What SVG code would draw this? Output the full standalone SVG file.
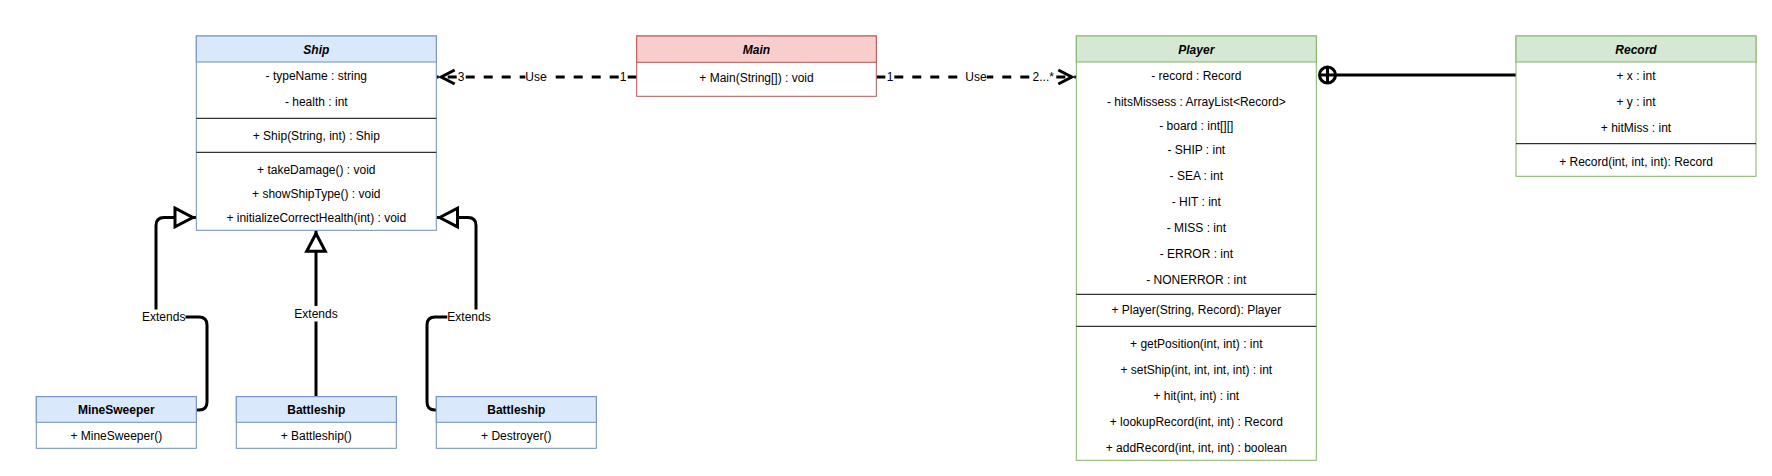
<svg xmlns="http://www.w3.org/2000/svg" width="1772" height="476" viewBox="0 0 1772 476">
<style>
text{font-family:"Liberation Sans",Arial,Helvetica,sans-serif;font-size:12px;fill:#000;text-anchor:middle}
.hdr{font-weight:bold;font-style:italic}
.hb{font-weight:bold}
.blue{fill:#dae8fc;stroke:#6c8ebf;stroke-width:1}
.red{fill:#f8cecc;stroke:#b85450;stroke-width:1}
.green{fill:#d5e8d4;stroke:#82b366;stroke-width:1}
.bodyb{fill:#fff;stroke:#6c8ebf;stroke-width:1}
.bodyr{fill:#fff;stroke:#b85450;stroke-width:1}
.bodyg{fill:#fff;stroke:#82b366;stroke-width:1}
.div{stroke:#000;stroke-width:1}
.edge{fill:none;stroke:#000;stroke-width:3}
.dash{stroke-dasharray:9 9}
.lbg{fill:#fff;stroke:none}
</style>
<defs>
<marker id="tri" markerUnits="userSpaceOnUse" viewBox="-28 -15 32 30" refX="0" refY="0" markerWidth="32" markerHeight="30" orient="auto" overflow="visible">
<path d="M-21,-9.3 L-3.2,0 L-21,9.3 Z" fill="#fff" stroke="#000" stroke-width="3"/>
</marker>
<marker id="open" markerUnits="userSpaceOnUse" viewBox="-24 -12 28 24" refX="0" refY="0" markerWidth="28" markerHeight="24" orient="auto" overflow="visible">
<path d="M-18,-7 L-4.5,0 L-18,7" fill="none" stroke="#000" stroke-width="3"/>
</marker>
</defs>

<g id="connectors">
<!-- MineSweeper extends Ship -->
<path class="edge" marker-end="url(#tri)" d="M196,410 L199,410 Q207,410 207,402 L207,325 Q207,317 199,317 L164,317 Q156,317 156,309 L156,225.5 Q156,217.5 164,217.5 L196,217.5"/>
<rect class="lbg" x="142" y="309.5" width="43.5" height="15"/>
<text x="163.7" y="321">Extends</text>
<!-- Battleship extends Ship -->
<path class="edge" marker-end="url(#tri)" d="M316,396 L316,230.3"/>
<rect class="lbg" x="294.3" y="306" width="43.5" height="15.5"/>
<text x="316" y="318">Extends</text>
<!-- Destroyer extends Ship -->
<path class="edge" marker-end="url(#tri)" d="M436,410 L435,410 Q427,410 427,402 L427,325 Q427,317 435,317 L468,317 Q476,317 476,309 L476,225.5 Q476,217.5 468,217.5 L436.5,217.5"/>
<rect class="lbg" x="447.3" y="309.5" width="43.5" height="15"/>
<text x="469" y="321">Extends</text>
<!-- Main uses Ship -->
<path class="edge dash" marker-end="url(#open)" d="M636.7,77 L436.7,77"/>
<rect class="lbg" x="619.6" y="70" width="6.8" height="14"/>
<text x="623" y="81">1</text>
<rect class="lbg" x="525.3" y="70" width="21.4" height="14"/>
<text x="536" y="81">Use</text>
<rect class="lbg" x="457.6" y="70" width="6.8" height="14"/>
<text x="461" y="81">3</text>
<!-- Main uses Player -->
<path class="edge dash" marker-end="url(#open)" d="M876.3,77 L1076.3,77"/>
<rect class="lbg" x="886.6" y="70" width="6.8" height="14"/>
<text x="890" y="81">1</text>
<rect class="lbg" x="965.3" y="70" width="21.4" height="14"/>
<text x="976" y="81">Use</text>
<rect class="lbg" x="1032.6" y="70" width="21.4" height="14"/>
<text x="1043.3" y="81">2...*</text>
<!-- Player contains Record -->
<path class="edge" d="M1335.5,75 L1516,75"/>
<circle cx="1327.5" cy="75" r="8" fill="#fff" stroke="#000" stroke-width="3"/>
<path class="edge" d="M1319.5,75 L1335.5,75 M1327.5,67 L1327.5,83"/>
</g>

<g id="Ship">
<rect class="bodyb" x="196.3" y="36" width="240" height="194.3"/>
<rect class="blue" x="196.3" y="36" width="240" height="26"/>
<text class="hdr" x="316.3" y="54">Ship</text>
<text x="316.3" y="80">- typeName : string</text>
<text x="316.3" y="105.5">- health : int</text>
<line class="div" x1="196.3" y1="118.3" x2="436.3" y2="118.3"/>
<text x="316.3" y="139.5">+ Ship(String, int) : Ship</text>
<line class="div" x1="196.3" y1="152.3" x2="436.3" y2="152.3"/>
<text x="316.3" y="173.5">+ takeDamage() : void</text>
<text x="316.3" y="197.5">+ showShipType() : void</text>
<text x="316.3" y="221.5">+ initializeCorrectHealth(int) : void</text>
</g>

<g id="Main">
<rect class="bodyr" x="636.7" y="36" width="239.6" height="60.3"/>
<rect class="red" x="636.7" y="36" width="239.6" height="26.3"/>
<text class="hdr" x="756.5" y="54">Main</text>
<text x="756.5" y="81.5">+ Main(String[]) : void</text>
</g>

<g id="Player">
<rect class="bodyg" x="1076.3" y="36" width="240" height="424.3"/>
<rect class="green" x="1076.3" y="36" width="240" height="26"/>
<text class="hdr" x="1196.3" y="54">Player</text>
<text x="1196.3" y="79.5">- record : Record</text>
<text x="1196.3" y="105.5">- hitsMissess : ArrayList&lt;Record&gt;</text>
<text x="1196.3" y="130">- board : int[][]</text>
<text x="1196.3" y="153.5">- SHIP : int</text>
<text x="1196.3" y="179.5">- SEA : int</text>
<text x="1196.3" y="205.5">- HIT : int</text>
<text x="1196.3" y="231.5">- MISS : int</text>
<text x="1196.3" y="257.5">- ERROR : int</text>
<text x="1196.3" y="283.5">- NONERROR : int</text>
<line class="div" x1="1076.3" y1="294.3" x2="1316.3" y2="294.3"/>
<text x="1196.3" y="313.5">+ Player(String, Record): Player</text>
<line class="div" x1="1076.3" y1="326.3" x2="1316.3" y2="326.3"/>
<text x="1196.3" y="347.5">+ getPosition(int, int) : int</text>
<text x="1196.3" y="373.5">+ setShip(int, int, int, int) : int</text>
<text x="1196.3" y="399.5">+ hit(int, int) : int</text>
<text x="1196.3" y="425.5">+ lookupRecord(int, int) : Record</text>
<text x="1196.3" y="451.5">+ addRecord(int, int, int) : boolean</text>
</g>

<g id="Record">
<rect class="bodyg" x="1516" y="36" width="240" height="140.3"/>
<rect class="green" x="1516" y="36" width="240" height="26"/>
<text class="hdr" x="1636" y="54">Record</text>
<text x="1636" y="79.5">+ x : int</text>
<text x="1636" y="105.5">+ y : int</text>
<text x="1636" y="131.5">+ hitMiss : int</text>
<line class="div" x1="1516" y1="143.7" x2="1756" y2="143.7"/>
<text x="1636" y="165.5">+ Record(int, int, int): Record</text>
</g>

<g id="MineSweeper">
<rect class="bodyb" x="36.3" y="396.7" width="160" height="51.6"/>
<rect class="blue" x="36.3" y="396.7" width="160" height="25.6"/>
<text class="hb" x="116.3" y="413.7">MineSweeper</text>
<text x="116.3" y="439.5">+ MineSweeper()</text>
</g>

<g id="Battleship">
<rect class="bodyb" x="236.3" y="396.7" width="160" height="51.6"/>
<rect class="blue" x="236.3" y="396.7" width="160" height="25.6"/>
<text class="hb" x="316.3" y="413.7">Battleship</text>
<text x="316.3" y="439.5">+ Battleship()</text>
</g>

<g id="Destroyer">
<rect class="bodyb" x="436.3" y="396.7" width="160" height="51.6"/>
<rect class="blue" x="436.3" y="396.7" width="160" height="25.6"/>
<text class="hb" x="516.3" y="413.7">Battleship</text>
<text x="516.3" y="439.5">+ Destroyer()</text>
</g>
</svg>
